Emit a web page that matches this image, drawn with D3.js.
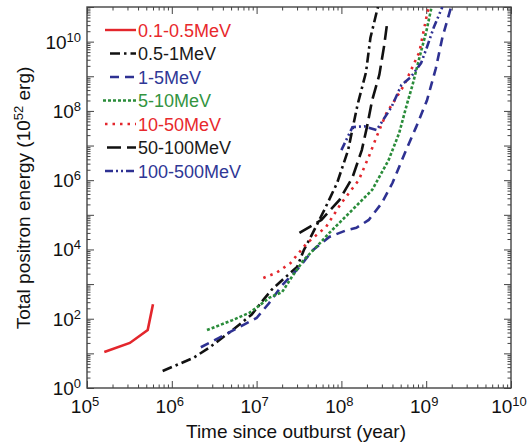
<!DOCTYPE html>
<html>
<head>
<meta charset="utf-8">
<script src="https://cdnjs.cloudflare.com/ajax/libs/d3/7.8.5/d3.min.js"></script>
<style>
body { margin: 0; background: #fff; }
svg text { font-family: "Liberation Sans", Arial, sans-serif; }
</style>
</head>
<body>
<svg width="529" height="445"></svg>
<script>
// energy bands and their curves: [time (yr), energy (1e52 erg)]
var bands = ["0.1-0.5MeV", "0.5-1MeV", "1-5MeV", "5-10MeV", "10-50MeV", "50-100MeV", "100-500MeV"];

var band1 = [[1.6e5, 11], [3.2e5, 20], [5.2e5, 47], [6.0e5, 263]];
var band2 = [[7.8e5, 3.1], [1.8e6, 7.4], [2.8e6, 15], [5.2e6, 47], [8.7e6, 130], [1.2e7, 350], [1.5e7, 680],
  [2.2e7, 1600], [3.0e7, 3100], [3.6e7, 9500], [4.6e7, 3.0e4], [6.3e7, 1.4e5], [8.9e7, 8.3e5], [1.2e8, 7.4e6],
  [1.55e8, 1.5e8], [1.95e8, 1.3e9], [2.2e8, 1.3e10], [2.6e8, 7e10], [2.7e8, 1e11]];
var band3 = [[2.2e6, 15], [3.6e6, 28], [6.3e6, 58], [1.0e7, 105], [1.4e7, 280], [2.0e7, 930], [3.2e7, 3100],
  [4.6e7, 9500], [7.2e7, 2.3e4], [1.15e8, 3.6e4], [1.5e8, 4.2e4], [2.1e8, 7.1e4], [3.0e8, 2.2e5], [4.0e8, 8.3e5],
  [5.8e8, 7.4e6], [7.6e8, 3.4e7], [1.02e9, 2.0e8], [1.3e9, 1.7e9], [1.55e9, 1.3e10], [1.95e9, 9.3e10]];
var band4 = [[2.6e6, 47], [5.2e6, 91], [8.3e6, 150], [1.1e7, 250], [1.4e7, 400], [2.0e7, 590], [2.6e7, 1600],
  [3.6e7, 5000], [5.1e7, 1.2e4], [7.2e7, 3.0e4], [1.35e8, 1.4e5], [2.3e8, 5.2e5], [3.6e8, 3.8e6], [4.8e8, 2.3e7],
  [5.9e8, 1.5e8], [6.9e8, 5.6e8], [8.3e8, 3.4e9], [1.0e9, 1.9e10], [1.15e9, 9.3e10]];
var band5 = [[1.2e7, 1500], [1.7e7, 2100], [2.5e7, 4000], [3.0e7, 6900], [3.9e7, 1.5e4], [6.6e7, 4.5e4],
  [1.0e8, 2.2e5], [1.6e8, 1.0e6], [2.1e8, 4.7e6], [2.6e8, 1.8e7], [3.4e8, 8.7e7], [4.0e8, 1.6e8],
  [5.5e8, 5.6e8], [8.3e8, 5.0e9], [1.02e9, 5.9e10], [1.07e9, 1e11]];
var band6 = [[3.2e7, 3.0e4], [5.8e7, 7.1e4], [9.5e7, 2.7e5], [1.35e8, 1.2e6], [1.74e8, 7.4e6], [2.0e8, 3.4e7],
  [2.3e8, 2.0e8], [2.8e8, 1.1e9], [3.2e8, 7.9e9], [3.5e8, 4.2e10]];
var band7 = [[1.0e8, 7.4e6], [1.35e8, 3.4e7], [1.86e8, 3.6e7], [2.6e8, 2.8e7], [3.0e8, 4.8e7], [3.9e8, 1.3e8],
  [5.1e8, 5.6e8], [6.6e8, 9.5e8], [8.7e8, 2.4e9], [1.02e9, 6.9e9], [1.23e9, 2.6e10], [1.55e9, 1e11]];

var xTicks = [5, 6, 7, 8, 9, 10];      // exponents
var yTicks = [0, 2, 4, 6, 8, 10];

var curves = [band1, band2, band3, band4, band5, band6, band7];
var lineColors = ["#e3262c", "#111111", "#2e3192", "#2a8c3a", "#e3262c", "#111111", "#2e3192"];
var textColors = ["#e8282c", "#1a1a1a", "#2f3796", "#33943f", "#e8282c", "#1a1a1a", "#2f3796"];
var dashes = [null, "10,4,2.5,4", "9,6", "3,2", "2.5,5", "14,6", "8,3,2,3,2,3"];

var svg = d3.select("svg");
var pLeft = 87, pRight = 511, pTop = 7, pBottom = 388;

var x = d3.scaleLog().domain([1e5, 1e10]).range([pLeft, pRight]);
var y = d3.scaleLog().domain([1, 1e11]).range([pBottom, pTop]);

svg.append("clipPath").attr("id", "clip").append("rect")
  .attr("x", pLeft).attr("y", pTop).attr("width", pRight - pLeft).attr("height", pBottom - pTop);

// ticks, inward on all four sides
var majX = d3.range(5, 11).map(function(e) { return Math.pow(10, e); });
var minX = [];
d3.range(5, 10).forEach(function(e) { for (var k = 2; k < 10; k++) minX.push(k * Math.pow(10, e)); });
var majY = d3.range(0, 12).map(function(e) { return Math.pow(10, e); });
var minY = [];
d3.range(0, 11).forEach(function(e) { for (var k = 2; k < 10; k++) minY.push(k * Math.pow(10, e)); });

function tickAxis(axisFn, scale, vals, size, tr) {
  var g = svg.append("g").attr("transform", tr)
    .call(axisFn(scale).tickValues(vals).tickSize(size).tickFormat(""));
  g.select(".domain").remove();
  g.selectAll("line").attr("stroke", "#444").attr("stroke-width", 1);
}
tickAxis(d3.axisBottom, x, majX, -7, "translate(0," + pBottom + ")");
tickAxis(d3.axisBottom, x, minX, -3.5, "translate(0," + pBottom + ")");
tickAxis(d3.axisTop, x, majX, -7, "translate(0," + pTop + ")");
tickAxis(d3.axisTop, x, minX, -3.5, "translate(0," + pTop + ")");
tickAxis(d3.axisLeft, y, majY, -7, "translate(" + pLeft + ",0)");
tickAxis(d3.axisLeft, y, minY, -3.5, "translate(" + pLeft + ",0)");
tickAxis(d3.axisRight, y, majY, -7, "translate(" + pRight + ",0)");
tickAxis(d3.axisRight, y, minY, -3.5, "translate(" + pRight + ",0)");

svg.append("rect").attr("x", pLeft).attr("y", pTop).attr("width", pRight - pLeft).attr("height", pBottom - pTop)
  .attr("fill", "none").attr("stroke", "#444").attr("stroke-width", 1.4);

// tick labels with superscripts
function powLabel(sel) {
  sel.append("tspan").text("10");
  sel.append("tspan").attr("dy", -7).attr("font-size", 13).text(function(d) { return d; });
}
svg.selectAll(".xl").data(xTicks).enter().append("text")
  .attr("x", function(d) { return x(Math.pow(10, d)) - 2; })
  .attr("y", 413).attr("text-anchor", "middle").attr("font-size", 19).attr("fill", "#111")
  .call(powLabel);
svg.selectAll(".yl").data(yTicks).enter().append("text")
  .attr("x", 81).attr("y", function(d) { return y(Math.pow(10, d)) + 7; })
  .attr("text-anchor", "end").attr("font-size", 19).attr("fill", "#111")
  .call(powLabel);

// axis titles
svg.append("text").attr("x", 296).attr("y", 438).attr("text-anchor", "middle")
  .attr("font-size", 19).attr("fill", "#111").text("Time since outburst (year)");
var yt = svg.append("text").attr("transform", "translate(30,198) rotate(-90)")
  .attr("text-anchor", "middle").attr("font-size", 19).attr("fill", "#111");
yt.append("tspan").text("Total positron energy (10");
yt.append("tspan").attr("dy", -7).attr("font-size", 13).text("52");
yt.append("tspan").attr("dy", 7).text(" erg)");

// curves
var line = d3.line().x(function(d) { return x(d[0]); }).y(function(d) { return y(d[1]); });
var plot = svg.append("g").attr("clip-path", "url(#clip)");
plot.selectAll(".curve").data(curves).enter().append("path")
  .attr("d", line)
  .attr("fill", "none")
  .attr("stroke", function(d, i) { return lineColors[i]; })
  .attr("stroke-width", 2.6)
  .attr("stroke-dasharray", function(d, i) { return dashes[i]; });

// legend
var legendStart = [105, 110, 110, 103, 105, 107, 105];
var lg = svg.selectAll(".lg").data(bands).enter().append("g")
  .attr("transform", function(d, i) { return "translate(0," + (30 + i * 23.5) + ")"; });
lg.append("line")
  .attr("x1", function(d, i) { return legendStart[i]; }).attr("x2", 136)
  .attr("y1", 0).attr("y2", 0)
  .attr("stroke", function(d, i) { return lineColors[i]; })
  .attr("stroke-width", 2.4)
  .attr("stroke-dasharray", function(d, i) { return dashes[i]; });
lg.append("text").attr("x", 138).attr("y", 6.5).attr("font-size", 18)
  .attr("fill", function(d, i) { return textColors[i]; })
  .text(function(d) { return d; });
</script>
</body>
</html>
